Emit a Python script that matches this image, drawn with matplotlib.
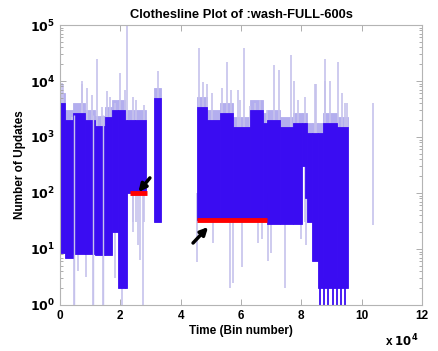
import numpy as np
import matplotlib
matplotlib.use("Agg")
import matplotlib.pyplot as plt

# --------------------------------------------------
# Data (x in bins / 1e4, y = number of updates)
# --------------------------------------------------

# dense band: left edges / right edges, top and bottom of each block
band_left = [0.00, 0.17, 0.43, 0.83, 1.16, 1.50, 1.72, 1.92, 2.15, 2.22, 2.49,
             3.10, 4.54, 4.87, 5.30, 5.73, 6.30, 6.73, 6.86, 7.30, 7.72,
             8.02, 8.12, 8.19, 8.35, 8.55, 8.72, 9.18]
band_right = [0.17, 0.43, 0.83, 1.16, 1.50, 1.72, 1.92, 2.15, 2.22, 2.49, 2.85,
              3.35, 4.87, 5.30, 5.73, 6.30, 6.73, 6.86, 7.30, 7.72, 8.02,
              8.12, 8.19, 8.35, 8.55, 8.72, 9.18, 9.55]
band_top = [4000, 2000, 2700, 2000, 1600, 2300, 3000, 3000, 2000, 2000, 2000,
            5000, 3500, 2000, 2700, 1500, 3000, 1800, 2000, 1500, 1800,
            1800, 1800, 1200, 1200, 1200, 1800, 1500]
band_bot = [8.5, 7, 8, 8, 7.8, 7.8, 20, 2, 2, 100, 100,
            30, 33, 33, 33, 33, 33, 33, 28, 28, 28,
            300, 80, 30, 6, 2, 2, 2]

# faint upward spikes (x, peak value)
spike_x = [0.07, 0.1, 0.4, 0.72, 0.73, 0.9, 1.06, 1.21, 1.39, 1.55, 1.66, 1.82,
           1.99, 2.15, 2.23, 2.42, 2.52, 2.78, 3.25, 4.6, 4.74, 4.86, 5.04,
           5.37, 5.55, 5.66, 5.9, 5.97, 6.1, 6.3, 6.47, 6.63, 6.85, 7.1,
           7.25, 7.67, 7.75, 7.9, 8.12, 8.45, 8.5, 8.77, 8.8, 8.95, 9.22,
           9.35, 9.45, 9.52]
spike_y = [9100, 9000, 2300, 10000, 9000, 7500, 5600, 25000, 3400, 6600, 5200,
           4000, 14000, 7000, 95000, 5200, 4600, 3700, 15000, 39000, 9500,
           9000, 6000, 7500, 22000, 7000, 7000, 4600, 39000, 3600, 4000,
           4600, 3000, 19000, 16000, 29000, 10000, 4600, 5200, 9000, 9000,
           25000, 10000, 10000, 22000, 6000, 4000, 4000]

# faint downward dips (x, lowest value)
dip_x = [0.46, 0.6, 0.85, 1.1, 1.43, 1.82, 2.07, 2.42, 2.58, 2.65, 2.74,
         4.54, 5.07, 5.65, 5.72, 6.03, 6.56, 6.7, 6.9, 7.0, 7.46, 8.0,
         8.15]
dip_y = [1, 4, 3.2, 1, 1, 3, 1, 20, 12, 6.4, 1,
         5.9, 12.8, 2, 2.5, 4.8, 13, 15, 6, 8.5, 2, 15,
         12]

# strong dips down to 1 at the end of the record
deep_x = [8.62, 8.76, 8.9, 9.04, 9.18, 9.32, 9.46]
deep_y = [1, 1, 1, 1, 1, 1, 1]

# lines that cut through the whole band
cut_x = [0.46, 1.1, 1.43]

# lone line on the right
lone_x = [10.38]
lone_lo = [27]
lone_hi = [4000]

# red highlight segments
red_x0 = [2.32, 4.54]
red_x1 = [2.88, 6.86]
red_y = [100, 33]

# arrows (tail -> tip)
arrow_tail = [(2.98, 186), (4.41, 12.8)]
arrow_tip = [(2.60, 104), (4.91, 24.7)]

dense = "#3a0cf2"
halo = "#b3aeee"
faint = "#c6c2ec"

# --------------------------------------------------
# Figure
# --------------------------------------------------

plt.rcParams["font.family"] = "Liberation Sans"
plt.rcParams["font.weight"] = "bold"

fig = plt.figure(figsize=(4.39, 3.51), dpi=100)
ax = fig.add_axes([60 / 439, 46 / 351, 362 / 439, 280 / 351])

left = np.array(band_left) * 1e4
width = (np.array(band_right) - np.array(band_left)) * 1e4
top = np.array(band_top, dtype=float)
bot = np.array(band_bot, dtype=float)

# lavender haze just above the dense band
ax.bar(left, top * 1.5 - top, bottom=top, width=width, align="edge",
       color=halo, edgecolor=halo, linewidth=0.6, zorder=1)

ax.vlines(np.array(spike_x) * 1e4, 30, spike_y, color=faint, lw=1.2, zorder=1)
ax.vlines(np.array(dip_x) * 1e4, dip_y, 100, color=faint, lw=1.2, zorder=1)

ax.bar(left, top - bot, bottom=bot, width=width, align="edge",
       color=dense, edgecolor=dense, linewidth=0.6, zorder=2)

ax.vlines(np.array(deep_x) * 1e4, deep_y, 3, color=dense, lw=1.3, zorder=2)
ax.vlines(np.array(cut_x) * 1e4, 1, 2500, color=faint, lw=1.0, zorder=3)
ax.vlines(np.array(lone_x) * 1e4, lone_lo, lone_hi, color=faint, lw=1.2, zorder=1)

ax.hlines(red_y, np.array(red_x0) * 1e4, np.array(red_x1) * 1e4,
          color="red", lw=3.5, zorder=4)

for (tx, ty), (hx, hy) in zip(arrow_tail, arrow_tip):
    ax.annotate("", xy=(hx * 1e4, hy), xytext=(tx * 1e4, ty),
                arrowprops=dict(arrowstyle="-|>", color="black", lw=2.5,
                                mutation_scale=11, shrinkA=0, shrinkB=0),
                zorder=5)

ax.set_yscale("log")
ax.set_xlim(0, 12e4)
ax.set_ylim(1, 1e5)

ax.set_xticks(np.arange(0, 13, 2) * 1e4)
ax.set_xticklabels([str(v) for v in range(0, 13, 2)], fontsize=8.5, fontweight="bold")
ax.set_yticks([10 ** k for k in range(6)])
ax.set_yticklabels([r"$\mathbf{10^{%d}}$" % k for k in range(6)], fontsize=9)

ax.tick_params(which="both", direction="in", top=True, right=True,
               color="#a0a0a0", width=0.6)
ax.tick_params(which="major", length=4)
ax.tick_params(which="minor", length=2)
for s in ax.spines.values():
    s.set_color("#b4b4b4")
    s.set_linewidth(0.8)

ax.set_title("Clothesline Plot of :wash-FULL-600s", fontsize=9.3,
             fontweight="bold", pad=5)
ax.set_xlabel("Time (Bin number)", fontsize=8.5, fontweight="bold", labelpad=2)
ax.set_ylabel("Number of Updates", fontsize=8.5, fontweight="bold", labelpad=3)
fig.text(402 / 439, 1 - 341 / 351, r"x $\mathbf{10^{4}}$", fontsize=8.5,
         fontweight="bold", ha="center", va="center")

fig.savefig("out.png", dpi=100)
